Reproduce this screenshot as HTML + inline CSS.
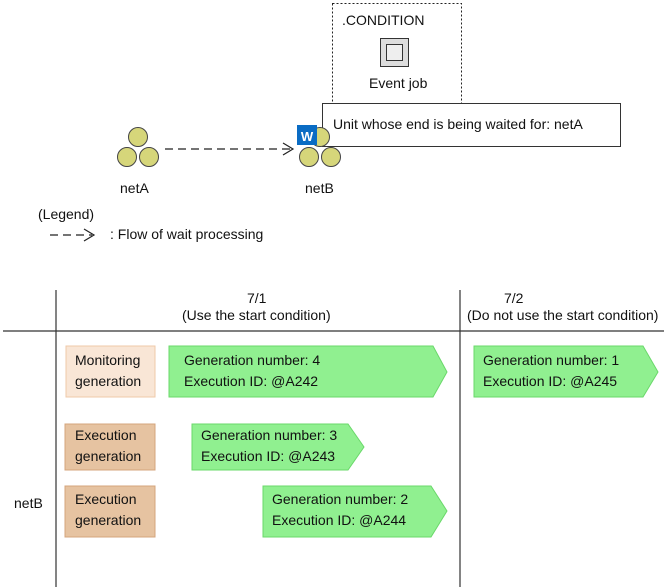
<!DOCTYPE html>
<html><head><style>
body{margin:0;width:664px;height:587px;background:#fff;position:relative;font-family:"Liberation Sans",sans-serif;font-size:14px;color:#111;overflow:hidden}
.t{position:absolute;white-space:nowrap;line-height:17px}
.box{position:absolute;box-sizing:border-box;padding:4px 0 0 9px;line-height:21px;white-space:nowrap}
</style></head><body>
<svg width="664" height="587" style="position:absolute;left:0;top:0">
<rect x="332.5" y="3.5" width="129" height="100" fill="none" stroke="#222" stroke-dasharray="2,2"/>
<rect x="380.5" y="38.5" width="28" height="28" fill="#ddd" stroke="#333"/>
<rect x="386.5" y="44.5" width="16" height="16" fill="#eee" stroke="#333"/>
<rect x="322.5" y="103.5" width="298" height="43" fill="#fff" stroke="#333"/>
<g fill="#d6d67a" stroke="#444">
<circle cx="138" cy="137" r="9.5"/><circle cx="127" cy="157" r="9.5"/><circle cx="149" cy="157" r="9.5"/>
<circle cx="320" cy="137" r="9.5"/><circle cx="309" cy="157" r="9.5"/><circle cx="331" cy="157" r="9.5"/>
</g>
<rect x="297" y="125" width="20" height="20" fill="#0a6cc4"/>
<text x="307" y="141" fill="#fff" font-size="13" font-weight="bold" text-anchor="middle" font-family="Liberation Sans">W</text>
<line x1="165" y1="149" x2="292" y2="149" stroke="#222" stroke-width="1.3" stroke-dasharray="8,5"/>
<polyline points="283,143 293,149 283,155" fill="none" stroke="#222" stroke-width="1.2"/>
<line x1="50" y1="235" x2="92" y2="235" stroke="#222" stroke-width="1.3" stroke-dasharray="8,5"/>
<polyline points="84,229 94,235 84,241" fill="none" stroke="#222" stroke-width="1.2"/>
<line x1="56" y1="290" x2="56" y2="587" stroke="#333" stroke-width="1.2"/>
<line x1="460" y1="290" x2="460" y2="587" stroke="#333" stroke-width="1.2"/>
<line x1="3" y1="331" x2="664" y2="331" stroke="#333" stroke-width="1.2"/>
<rect x="66" y="346" width="89" height="51" fill="#f9e6d6" stroke="#efc9a8"/>
<rect x="65" y="424" width="90" height="46" fill="#e6c3a1" stroke="#d4a57c"/>
<rect x="65" y="486" width="90" height="51" fill="#e6c3a1" stroke="#d4a57c"/>
<g fill="#90f090" stroke="#6ad86a">
<polygon points="169,346 433,346 447,372 433,397 169,397"/>
<polygon points="474,346 643,346 658,372 643,397 474,397"/>
<polygon points="192,424 348,424 364,447 348,470 192,470"/>
<polygon points="263,486 431,486 447,511 431,537 263,537"/>
</g>
</svg>
<div class="t" style="left:342px;top:12px">.CONDITION</div>
<div class="t" style="left:369px;top:75px">Event job</div>
<div class="t" style="left:333px;top:116px">Unit whose end is being waited for: netA</div>
<div class="t" style="left:120px;top:180px">netA</div>
<div class="t" style="left:305px;top:180px">netB</div>
<div class="t" style="left:38px;top:206px">(Legend)</div>
<div class="t" style="left:110px;top:226px">: Flow of wait processing</div>
<div class="t" style="left:247px;top:290px">7/1</div>
<div class="t" style="left:182px;top:307px">(Use the start condition)</div>
<div class="t" style="left:504px;top:290px">7/2</div>
<div class="t" style="left:467px;top:307px">(Do not use the start condition)</div>
<div class="t" style="left:14px;top:495px">netB</div>
<div class="box" style="left:66px;top:346px;padding-left:9px">Monitoring<br>generation</div>
<div class="box" style="left:65px;top:424px;padding-top:1px;padding-left:10px">Execution<br>generation</div>
<div class="box" style="left:65px;top:486px;padding-top:3px;padding-left:10px">Execution<br>generation</div>
<div class="box" style="left:169px;top:346px;padding-left:15px">Generation number: 4<br>Execution ID: @A242</div>
<div class="box" style="left:474px;top:346px">Generation number: 1<br>Execution ID: @A245</div>
<div class="box" style="left:192px;top:424px;padding-top:1px">Generation number: 3<br>Execution ID: @A243</div>
<div class="box" style="left:263px;top:486px;padding-top:3px">Generation number: 2<br>Execution ID: @A244</div>
</body></html>
